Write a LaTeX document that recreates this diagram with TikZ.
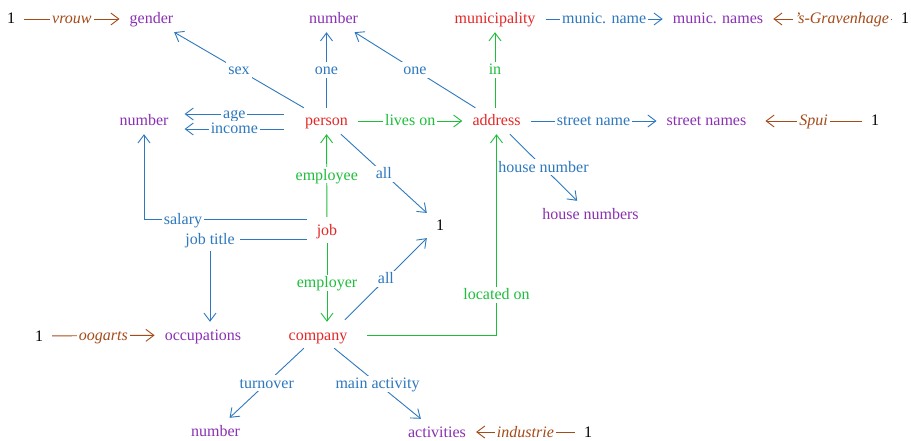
\documentclass[tikz,border=0pt]{standalone}
\usepackage{fontspec}
\setmainfont{Liberation Serif}
\usetikzlibrary{arrows.meta}
\definecolor{entred}{RGB}{228,38,38}
\definecolor{valpurple}{RGB}{138,48,178}
\definecolor{attrblue}{RGB}{45,120,190}
\definecolor{relgreen}{RGB}{30,190,60}
\definecolor{instbrown}{RGB}{165,75,25}
\begin{document}
\begin{tikzpicture}[x=1pt,y=-1pt,
  every node/.style={font=\fontsize{16}{19}\selectfont, text height=12pt, text depth=2pt},
  box/.style={inner xsep=10pt, inner ysep=6pt},
  ent/.style={box, text=entred},
  val/.style={box, text=valpurple},
  unit/.style={box, text=black, inner xsep=9pt},
  lbl/.style={fill=white, inner xsep=2pt, inner ysep=1pt},
  tip/.style={-{Straight Barb[length=8pt,width=12pt]}},
  attr/.style={color=attrblue, line width=0.9pt},
  rel/.style={color=relgreen, line width=0.9pt},
  inst/.style={color=instbrown, line width=0.9pt},
]
\useasboundingbox (0,0) rectangle (911,441);

% entity types
\node[ent] (person)   at (326.5,121) {person};
\node[ent] (address)  at (496.5,121) {address};
\node[ent] (muni)     at (495,19)    {municipality};
\node[ent] (job)      at (327,230)   {job};
\node[ent] (company)  at (318,335)   {company};

% value types
\node[val] (gender)      at (151.5,19)  {gender};
\node[val] (numtop)      at (333.5,19)  {number};
\node[val] (municnames)  at (718,19)    {munic. names};
\node[val] (numleft)     at (144,121)   {number};
\node[val] (streetnames) at (706.5,121) {street names};
\node[val] (housenums)   at (590.5,214) {house numbers};
\node[val] (occup)       at (203,335)   {occupations};
\node[val] (numbot)      at (215.5,431) {number};
\node[val] (activities)  at (437,432)   {activities};

% unit nodes
\node[unit] (oneA)   at (11,19)   {1};
\node[unit] (oneB)   at (905,19)  {1};
\node[unit] (oneC)   at (875,121) {1};
\node[unit] (onemid) at (440,225) {1};
\node[unit] (oneD)   at (39,336)  {1};
\node[unit] (oneE)   at (588,432) {1};

% junction label for the job title attribute
\node[text=attrblue, inner sep=5pt] (jt) at (210,239) {job title};

% attributes
\draw[attr,tip] (person) -- node[lbl]{sex} (gender);
\draw[attr,tip] (person) -- node[lbl]{one} (person |- numtop.south);
\draw[attr,tip] (address) -- node[lbl]{one} (numtop);
\draw[attr,tip] (muni) -- node[lbl]{munic. name} (municnames);
\draw[attr,tip] ([shift={(-11pt,7pt)}]person.west) -- node[lbl]{age} ([shift={(6pt,7pt)}]numleft.east);
\draw[attr,tip] ([shift={(-11pt,-8pt)}]person.west) -- node[lbl]{income} ([shift={(6pt,-8pt)}]numleft.east);
\draw[attr,tip] (address) -- node[lbl]{street name} (streetnames);
\draw[attr,tip] (address) -- node[lbl]{house number} (housenums);
\draw[attr,tip] (person) -- node[lbl]{all} (onemid);
\draw[attr,tip] ([yshift=11pt]job.west) -| node[lbl,pos=0.38]{salary} (numleft);
\draw[attr] ([yshift=-9pt]job.west) -- (jt);
\draw[attr,tip] (jt) -- (jt |- occup.north);
\draw[attr,tip] ([shift={(27pt,2pt)}]company.north) -- node[lbl]{all} (onemid);
\draw[attr,tip] (company) -- node[lbl]{turnover} (numbot);
\draw[attr,tip] (company) -- node[lbl]{main activity} (activities);

% relationships
\draw[rel,tip] (address.north -| muni) -- node[lbl]{in} (muni);
\draw[rel,tip] (person) -- node[lbl]{lives on} (address);
\draw[rel,tip] (job) -- node[lbl]{employee} (person);
\draw[rel,tip] (job) -- node[lbl]{employer} (job |- company.north);
\draw[rel,tip] ([xshift=9pt]company.east) -| node[lbl,pos=0.6]{located on} (address);

% instances
\draw[inst,tip] (oneA) -- node[lbl]{\itshape vrouw} (gender);
\draw[inst,tip] (oneB) -- node[lbl,pos=0.42]{\itshape 's-Gravenhage} (municnames);
\draw[inst,tip] (oneC) -- node[lbl]{\itshape Spui} ([xshift=9pt]streetnames.east);
\draw[inst,tip] (oneD) -- node[lbl]{\itshape oogarts} (occup);
\draw[inst,tip] (oneE) -- node[lbl]{\itshape industrie} (activities);
\end{tikzpicture}
\end{document}
